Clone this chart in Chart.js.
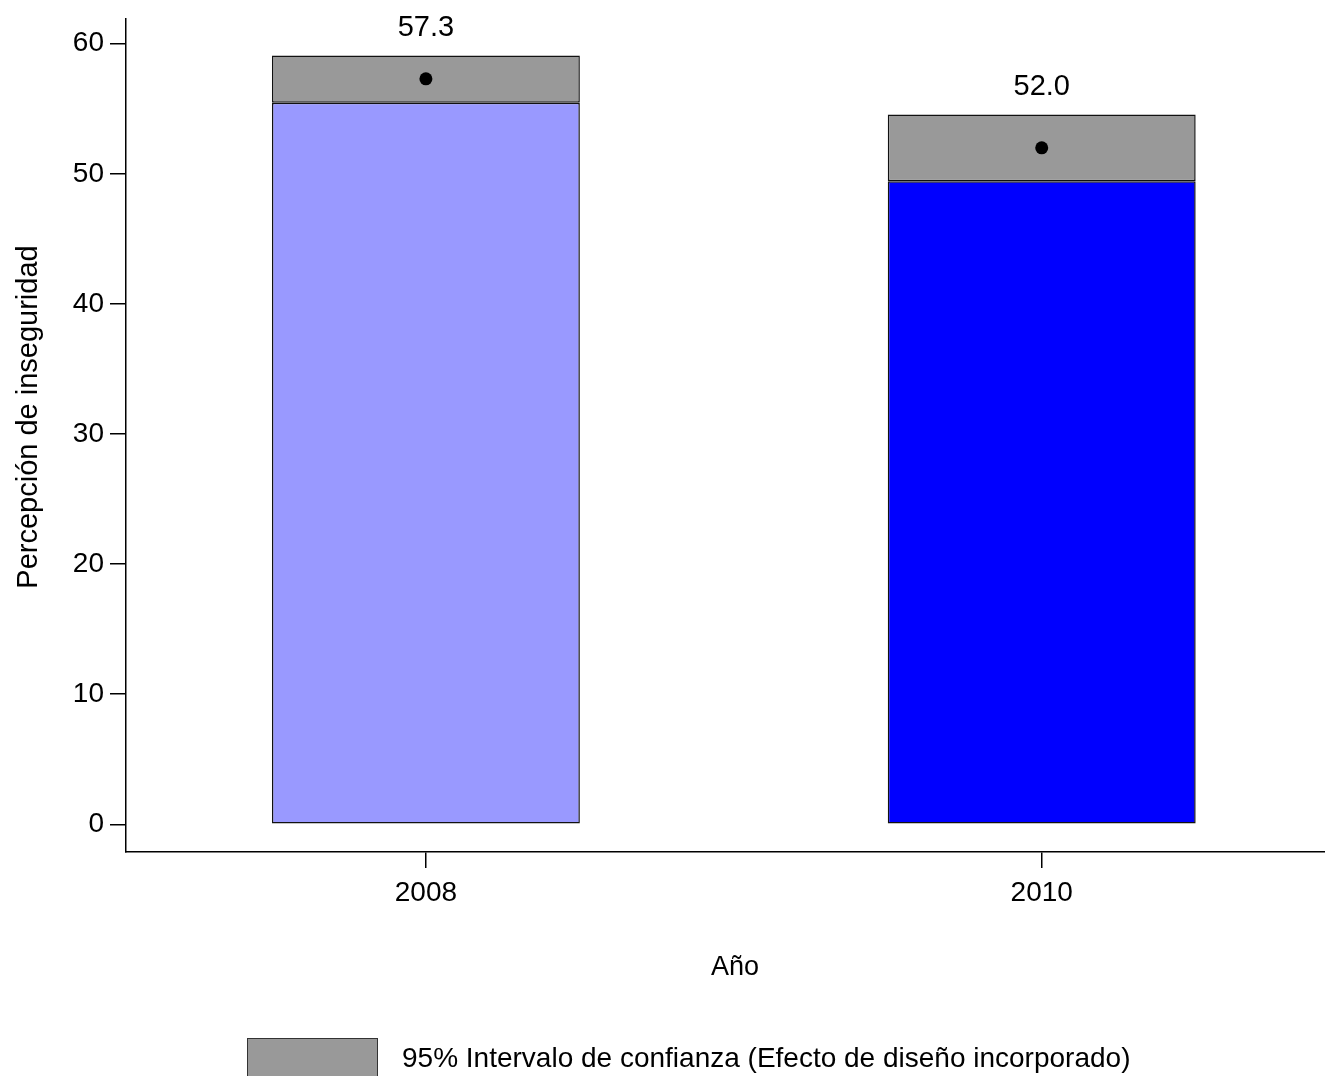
<!DOCTYPE html>
<html>
<head>
<meta charset="utf-8">
<script src="https://cdn.jsdelivr.net/npm/chart.js@4.4.1/dist/chart.umd.min.js"></script>
<style>
  html, body { margin: 0; padding: 0; background: #fff; overflow: hidden; }
  #wrap { width: 1325px; height: 1076px; }
  canvas { display: block; }
</style>
</head>
<body>
<div id="wrap"><canvas id="c" width="1325" height="1076"></canvas></div>
<script>
// ---- data ----
const years = [2008, 2010];
const estimates = [57.3, 52.0];
const ciLower = [55.46, 49.43];
const ciUpper = [59.1, 54.56];
const yTickValues = [0, 10, 20, 30, 40, 50, 60];
const xTickValues = [2008, 2010];
const yTitle = 'Percepción de inseguridad';
const xTitle = 'Año';
const ciLabel = '95% Intervalo de confianza (Efecto de diseño incorporado)';

const FONT = '"Liberation Sans", Arial, sans-serif';

const lowerData = years.map((y, i) => ({ x: y, y: [0, ciLower[i]] }));
const ciData = years.map((y, i) => ({ x: y, y: [ciLower[i], ciUpper[i]] }));
const pointData = years.map((y, i) => ({ x: y, y: estimates[i] }));

const extrasPlugin = {
  id: 'extras',
  afterDraw(chart) {
    const ctx = chart.ctx;
    const xs = chart.scales.x, ys = chart.scales.y;
    ctx.save();
    ctx.fillStyle = '#000';
    // value labels above CI
    ctx.font = '29px ' + FONT;
    ctx.textAlign = 'center';
    ctx.textBaseline = 'middle';
    years.forEach((yr, i) => {
      ctx.fillText(estimates[i].toFixed(1), xs.getPixelForValue(yr), ys.getPixelForValue(ciUpper[i]) - 27);
    });
    // y title
    ctx.save();
    ctx.font = '29px ' + FONT;
    ctx.translate(37, 417);
    ctx.rotate(-Math.PI / 2);
    ctx.textAlign = 'center';
    ctx.textBaseline = 'alphabetic';
    ctx.fillText(yTitle, 0, 0);
    ctx.restore();
    // x title
    ctx.font = '27px ' + FONT;
    ctx.textAlign = 'center';
    ctx.textBaseline = 'alphabetic';
    ctx.fillText(xTitle, 735, 975);
    // legend
    ctx.fillStyle = '#999999';
    ctx.fillRect(247, 1038, 131, 45);
    ctx.strokeStyle = '#333';
    ctx.lineWidth = 1;
    ctx.strokeRect(247.5, 1038.5, 130, 45);
    ctx.fillStyle = '#000';
    ctx.font = '28px ' + FONT;
    ctx.textAlign = 'left';
    ctx.fillText(ciLabel, 402, 1067);
    ctx.restore();
  }
};

new Chart(document.getElementById('c'), {
  data: {
    datasets: [
      {
        type: 'scatter',
        label: 'Estimación',
        data: pointData,
        pointRadius: 6.5,
        pointBackgroundColor: '#000',
        pointBorderColor: '#000',
        pointBorderWidth: 0,
        order: 0
      },
      {
        type: 'bar',
        label: ciLabel,
        data: ciData,
        backgroundColor: '#999999',
        borderColor: '#111',
        borderWidth: 1.5,
        borderSkipped: false,
        grouped: false,
        barPercentage: 0.5,
        categoryPercentage: 1.0,
        order: 1
      },
      {
        type: 'bar',
        label: 'Percepción',
        data: lowerData,
        backgroundColor: ['#9999ff', '#0000ff'],
        borderColor: '#111',
        borderWidth: 1.5,
        borderSkipped: false,
        grouped: false,
        barPercentage: 0.5,
        categoryPercentage: 1.0,
        order: 2
      }
    ]
  },
  options: {
    responsive: false,
    animation: false,
    devicePixelRatio: 1,
    layout: { autoPadding: false, padding: { top: 19, right: 0, bottom: 0, left: 0 } },
    plugins: { legend: { display: false }, tooltip: { enabled: false } },
    scales: {
      x: {
        type: 'linear',
        min: 2007.026,
        max: 2010.92,
        offset: false,
        afterBuildTicks: (s) => { s.ticks = xTickValues.map(v => ({ value: v })); },
        afterFit: (s) => { s.height = 224; s.paddingLeft = 0; s.paddingRight = 0; },
        ticks: {
          callback: (v) => String(v),
          color: '#000',
          font: { family: FONT, size: 28 },
          padding: 8,
          maxRotation: 0,
          autoSkip: false
        },
        grid: { offset: false, drawOnChartArea: false, drawTicks: true, tickLength: 16, color: '#000', lineWidth: 1.5 },
        border: { display: true, color: '#000', width: 1.5 }
      },
      y: {
        type: 'linear',
        min: -2.13,
        max: 61.9,
        afterBuildTicks: (s) => { s.ticks = yTickValues.map(v => ({ value: v })); },
        afterFit: (s) => { s.width = 126; s.paddingTop = 0; s.paddingBottom = 0; },
        ticks: {
          color: '#000',
          font: { family: FONT, size: 28 },
          padding: 6,
          autoSkip: false
        },
        grid: { drawOnChartArea: false, drawTicks: true, tickLength: 16, color: '#000', lineWidth: 1.5 },
        border: { display: true, color: '#000', width: 1.5 }
      }
    }
  },
  plugins: [extrasPlugin]
});
</script>
</body>
</html>
